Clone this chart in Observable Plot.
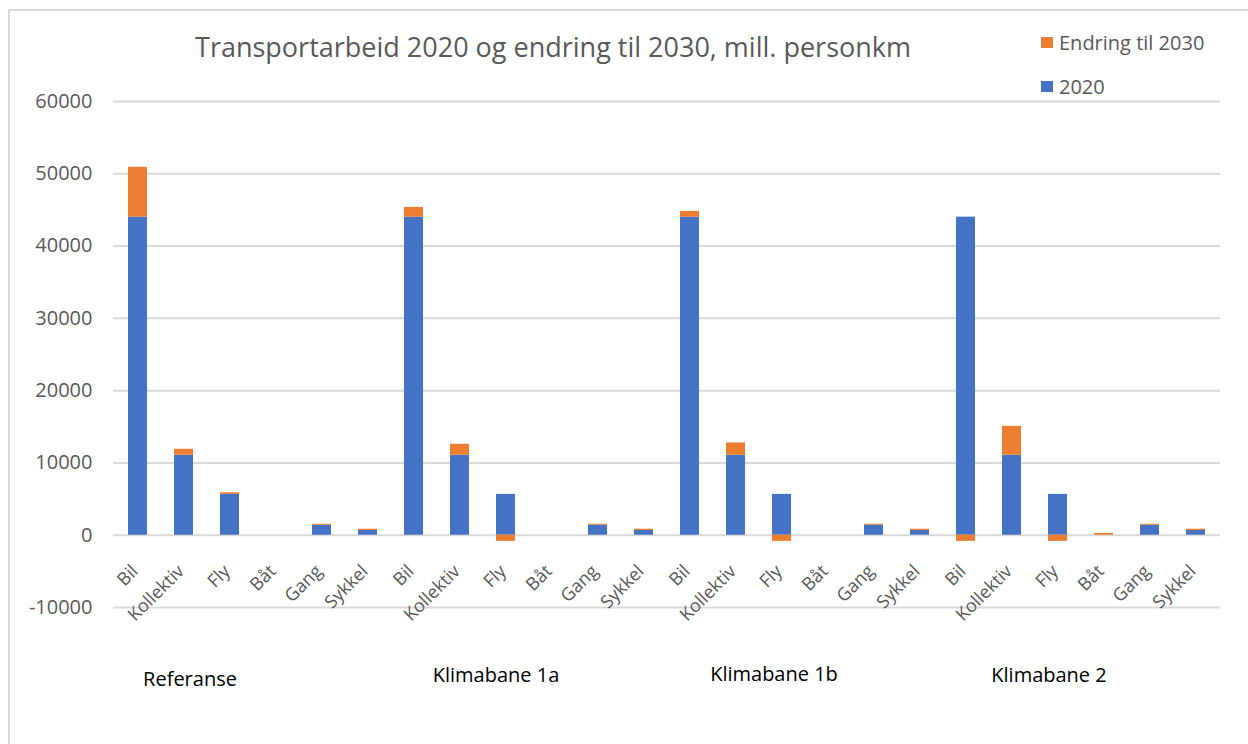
<!DOCTYPE html>
<html>
<head>
<meta charset="utf-8">
<script src="https://cdn.jsdelivr.net/npm/d3@7"></script>
<script src="https://cdn.jsdelivr.net/npm/@observablehq/plot@0.6"></script>
<style>
  html, body { margin: 0; padding: 0; background: #fff; }
  #wrap { position: relative; width: 1248px; height: 744px; overflow: hidden; font-family: "Open Sans", sans-serif; }
  #frame { position: absolute; left: 8px; top: 9px; width: 1260px; height: 760px; border: 2px solid #d9d9d9; box-sizing: border-box; }
  #title { position: absolute; left: 0; width: 1106px; top: 28px; text-align: center; font-size: 27px; color: #595959; white-space: nowrap; }
  .leg { position: absolute; left: 1041px; font-size: 20px; color: #595959; white-space: nowrap; display: flex; align-items: center; }
  .leg span.sw { display: inline-block; width: 12px; height: 11px; margin-right: 6px; }
  #chart { position: absolute; left: 0; top: 0; }
</style>
</head>
<body>
<div id="wrap">
  <div id="frame"></div>
  <div id="chart"></div>
  <div id="title">Transportarbeid 2020 og endring til 2030, mill. personkm</div>
  <div id="legend"></div>
</div>
<script>
const scenarios = ["Referanse", "Klimabane 1a", "Klimabane 1b", "Klimabane 2"];
const modes = ["Bil", "Kollektiv", "Fly", "Båt", "Gang", "Sykkel"];
const seriesNames = ["2020", "Endring til 2030"];
const seriesColors = ["#4472C4", "#ED7D31"];
// 2020 level per mode (same in every scenario)
const values2020 = [44000, 11060, 5650, 0, 1380, 650];
// change to 2030 per scenario, per mode
const changeReferanse = [6900, 830, 220, 0, 140, 180];
const change1a = [1350, 1520, -850, 0, 140, 180];
const change1b = [800, 1700, -850, 0, 140, 180];
const change2 = [-850, 4000, -850, 250, 140, 180];
const changes = [changeReferanse, change1a, change1b, change2];
const yTicks = [-10000, 0, 10000, 20000, 30000, 40000, 50000, 60000];

const keys = [];
const rows = [];
scenarios.forEach((s, i) => {
  modes.forEach((m, j) => {
    const key = s + "|" + m;
    keys.push(key);
    rows.push({key, series: seriesNames[0], value: values2020[j]});
    rows.push({key, series: seriesNames[1], value: changes[i][j]});
  });
});

// group-label anchor bars and horizontal nudges (text boxes in original)
const labelAnchors = ["Kollektiv", "Fly", "Fly", "Fly"];
const labelNudge = [6, -10, -8, -9];
const labelDy = [72, 68, 67, 68];

const groupMarks = scenarios.map((s, i) =>
  Plot.text([s], {
    x: () => s + "|" + labelAnchors[i],
    y: () => -10000,
    text: d => d,
    dx: labelNudge[i],
    dy: labelDy[i],
    fill: "#000",
    fontSize: 20,
    textAnchor: "middle"
  })
);

const chart = Plot.plot({
  width: 1248,
  height: 744,
  marginLeft: 113,
  marginRight: 28,
  marginTop: 101,
  marginBottom: 137,
  style: {fontFamily: "Open Sans", fontSize: "19px", color: "#595959", background: "transparent", overflow: "visible"},
  x: {domain: keys, paddingInner: 0.59, paddingOuter: 0.295, label: null, axis: null},
  y: {domain: [-10000, 60000], label: null, ticks: yTicks, tickSize: 0, tickPadding: 21, tickFormat: d => String(d)},
  color: {domain: seriesNames, range: seriesColors},
  marks: [
    Plot.gridY(yTicks, {stroke: "#d9d9d9", strokeOpacity: 1, strokeWidth: 2}),
    Plot.barY(rows, Plot.stackY({x: "key", y: "value", fill: "series", order: seriesNames})),
    Plot.text(keys, {
      x: d => d,
      y: () => 0,
      text: d => d.split("|")[1],
      rotate: -45,
      textAnchor: "end",
      lineAnchor: "middle",
      dx: -3,
      dy: 33,
      fontSize: 18,
      fill: "#595959"
    }),
    ...groupMarks
  ]
});
document.getElementById("chart").appendChild(chart);
chart.querySelectorAll("g[aria-label='y-axis tick label']").forEach(e => e.setAttribute("font-size", "20"));

const legend = document.getElementById("legend");
[[seriesNames[1], seriesColors[1], 29], [seriesNames[0], seriesColors[0], 73]].forEach(([name, color, top]) => {
  const d = document.createElement("div");
  d.className = "leg";
  d.style.top = top + "px";
  d.innerHTML = `<span class="sw" style="background:${color}"></span>${name}`;
  legend.appendChild(d);
});
</script>
</body>
</html>
